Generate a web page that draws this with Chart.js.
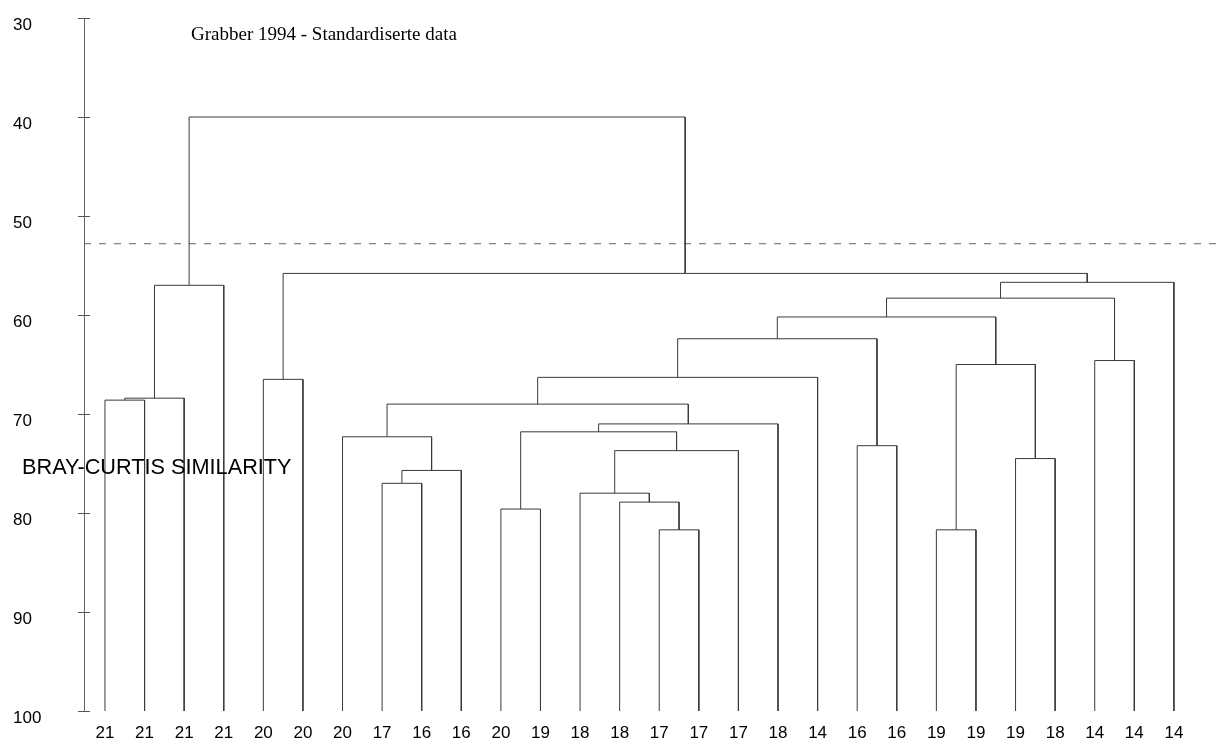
<!DOCTYPE html>
<html>
<head>
<meta charset="utf-8">
<script src="https://cdn.jsdelivr.net/npm/chart.js@4.4.1/dist/chart.umd.min.js"></script>
<style>
  html, body { margin: 0; padding: 0; background: #fff; }
  #wrap { width: 1223px; height: 753px; position: relative; }
</style>
</head>
<body>
<div id="wrap"><canvas id="dendro"></canvas></div>
<script>
// Grabber 1994 - Bray-Curtis dendrogram, standardised data

// leaf labels, left to right
const leafLabels = ['21','21','21','21','20','20','20','17','16','16','20','19','18','18',
                    '17','17','17','18','14','16','16','19','19','19','18','14','14','14'];

// merges: ids 0-27 are leaves, merge k makes node 28+k
const mergeLeft  = [14, 21, 10, 13, 12, 7, 33, 23, 32, 19, 6, 30, 39, 38, 0, 42, 4, 41, 29, 25, 45, 48, 49, 43, 50, 44, 51];
const mergeRight = [15, 22, 11, 28, 31, 8, 9, 24, 16, 20, 34, 36, 17, 40, 1, 2, 5, 18, 35, 26, 37, 46, 47, 3, 27, 52, 53];
const mergeLevel = [81.7, 81.7, 79.6, 78.9, 78.0, 77.0, 75.7, 74.5, 73.7, 73.2, 72.3, 71.8, 71.0, 69.0,
                    68.6, 68.4, 66.5, 66.3, 65.0, 64.6, 62.4, 60.2, 58.3, 57.0, 56.7, 55.8, 40.0];

const yTicks = [30, 40, 50, 60, 70, 80, 90, 100];
const cutLevel = 52.8;

const titleText = 'Grabber 1994 - Standardiserte data';
const axisTitle = 'BRAY-CURTIS SIMILARITY';

const X_MIN = -0.53, X_MAX = 28.24;

// build the elbow links from the merge table
const nodeX = leafLabels.map((_, i) => i);
const nodeY = leafLabels.map(() => 100);
const links = [];
mergeLeft.forEach((a, k) => {
  const b = mergeRight[k], h = mergeLevel[k];
  links.push([
    { x: nodeX[a], y: nodeY[a] },
    { x: nodeX[a], y: h },
    { x: nodeX[b], y: h },
    { x: nodeX[b], y: nodeY[b] }
  ]);
  nodeX.push((nodeX[a] + nodeX[b]) / 2);
  nodeY.push(h);
});

const datasets = links.map(pts => ({
  data: pts,
  showLine: true,
  borderColor: '#3a3a3a',
  borderWidth: 1,
  pointRadius: 0,
  tension: 0,
  fill: false
}));

datasets.push({
  data: [{ x: X_MIN, y: cutLevel }, { x: X_MAX, y: cutLevel }],
  showLine: true,
  borderColor: '#666',
  borderWidth: 1,
  borderDash: [7, 8],
  pointRadius: 0,
  fill: false
});

// cross ticks on the y axis + the two free texts
const decor = {
  id: 'decor',
  afterDraw(chart) {
    const { ctx, scales: { y } } = chart;
    const ax = chart.chartArea.left;
    ctx.save();
    ctx.strokeStyle = '#555';
    ctx.lineWidth = 1;
    y.ticks.forEach(t => {
      const py = Math.round(y.getPixelForValue(t.value)) + 0.5;
      ctx.beginPath();
      ctx.moveTo(ax - 6, py);
      ctx.lineTo(ax + 6, py);
      ctx.stroke();
    });
    ctx.fillStyle = '#000';
    ctx.font = '19px "Liberation Serif", "Times New Roman", serif';
    ctx.textBaseline = 'alphabetic';
    ctx.fillText(titleText, 191, 40);
    ctx.font = '21.7px "Liberation Sans", Arial, sans-serif';
    ctx.textBaseline = 'middle';
    ctx.fillText(axisTitle, 22, 468);
    ctx.restore();
  }
};

const tickFont = { family: '"Liberation Sans", Arial, sans-serif', size: 17 };

new Chart(document.getElementById('dendro'), {
  type: 'scatter',
  data: { datasets },
  options: {
    responsive: true,
    maintainAspectRatio: false,
    animation: false,
    events: [],
    layout: { padding: { left: 13, top: 18, right: 0, bottom: 0 } },
    plugins: { legend: { display: false }, tooltip: { enabled: false } },
    scales: {
      x: {
        type: 'linear',
        min: X_MIN,
        max: X_MAX,
        afterBuildTicks: s => { s.ticks = leafLabels.map((_, i) => ({ value: i })); },
        afterFit: s => { s.height = 42; },
        ticks: {
          callback: v => leafLabels[v],
          autoSkip: false,
          maxRotation: 0,
          padding: 4,
          color: '#000',
          font: tickFont
        },
        grid: { display: false },
        border: { display: false }
      },
      y: {
        type: 'linear',
        reverse: true,
        min: 30,
        max: 100,
        afterBuildTicks: s => { s.ticks = yTicks.map(v => ({ value: v })); },
        afterFit: s => { s.width = 71; },
        ticks: {
          crossAlign: 'far',
          labelOffset: 7,
          color: '#000',
          font: tickFont
        },
        grid: { drawOnChartArea: false, drawTicks: false },
        border: { display: true, color: '#666', width: 1 }
      }
    }
  },
  plugins: [decor]
});
</script>
</body>
</html>
